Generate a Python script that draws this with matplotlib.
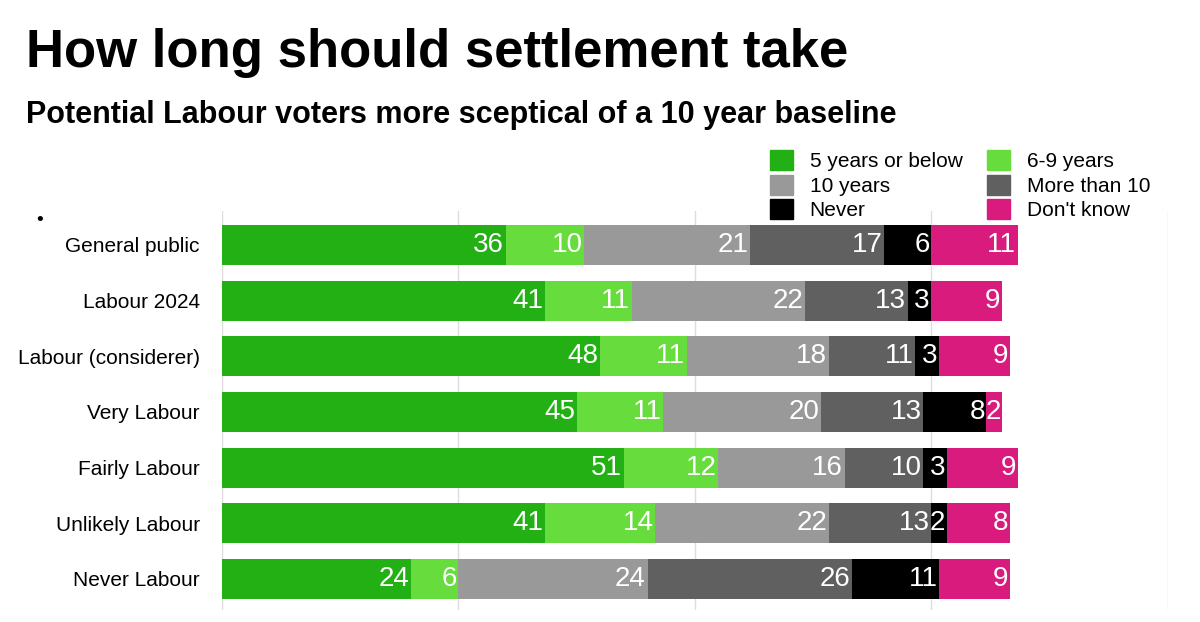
import matplotlib.pyplot as plt
from matplotlib.patches import Patch

plt.rcParams['font.family'] = ['Liberation Sans', 'DejaVu Sans']

groups = ["General public", "Labour 2024", "Labour (considerer)", "Very Labour",
          "Fairly Labour", "Unlikely Labour", "Never Labour"]
series = ["5 years or below", "6-9 years", "10 years", "More than 10", "Never", "Don't know"]
colors = ["#22b014", "#66dd3c", "#999999", "#606060", "#000000", "#d81b7c"]
values = [
    [36, 41, 48, 45, 51, 41, 24],
    [10, 11, 11, 11, 12, 14, 6],
    [21, 22, 18, 20, 16, 22, 24],
    [17, 13, 11, 13, 10, 13, 26],
    [6, 3, 3, 8, 3, 2, 11],
    [11, 9, 9, 2, 9, 8, 9],
]

fig = plt.figure(figsize=(12, 6.22), dpi=100)
ax = fig.add_axes([0.185, 0.02, 0.788, 0.64])

y = list(range(len(groups)))
left = [0] * len(groups)
for name, col, vals in zip(series, colors, values):
    ax.barh(y, vals, left=left, color=col, height=0.72, label=name, zorder=2)
    for yi, l, v in zip(y, left, vals):
        ax.text(l + v - 0.2, yi, str(v), ha='right', va='center',
                color='white', fontsize=20, zorder=3)
    left = [a + b for a, b in zip(left, vals)]

ax.set_xlim(0, 120)
ax.set_ylim(len(groups) - 0.45, -0.6)
ax.set_xticks([0, 30, 60, 90, 120])
ax.xaxis.grid(True, color='#dddddd', lw=1, zorder=0)
ax.set_xticklabels([])
ax.tick_params(length=0)
ax.set_yticks(y)
ax.set_yticklabels(groups, fontsize=15)
ax.tick_params(axis='y', pad=16)
for s in ax.spines.values():
    s.set_visible(False)

fig.text(0.022, 0.955, "How long should settlement take", fontsize=38,
         fontweight='bold', va='top')
fig.text(0.022, 0.84, "Potential Labour voters more sceptical of a 10 year baseline",
         fontsize=22, fontweight='bold', va='top')
fig.text(0.03, 0.645, "•", fontsize=14, va='center')

order = [0, 2, 4, 1, 3, 5]
handles = [Patch(color=colors[i]) for i in order]
fig.legend(handles, [series[i] for i in order], ncol=2, loc='upper left',
           bbox_to_anchor=(0.633, 0.775), frameon=False, fontsize=15,
           handlelength=1.1, handleheight=1.1, handletextpad=0.8,
           columnspacing=1.2, labelspacing=0.15, borderpad=0)

fig.savefig("out.png")
